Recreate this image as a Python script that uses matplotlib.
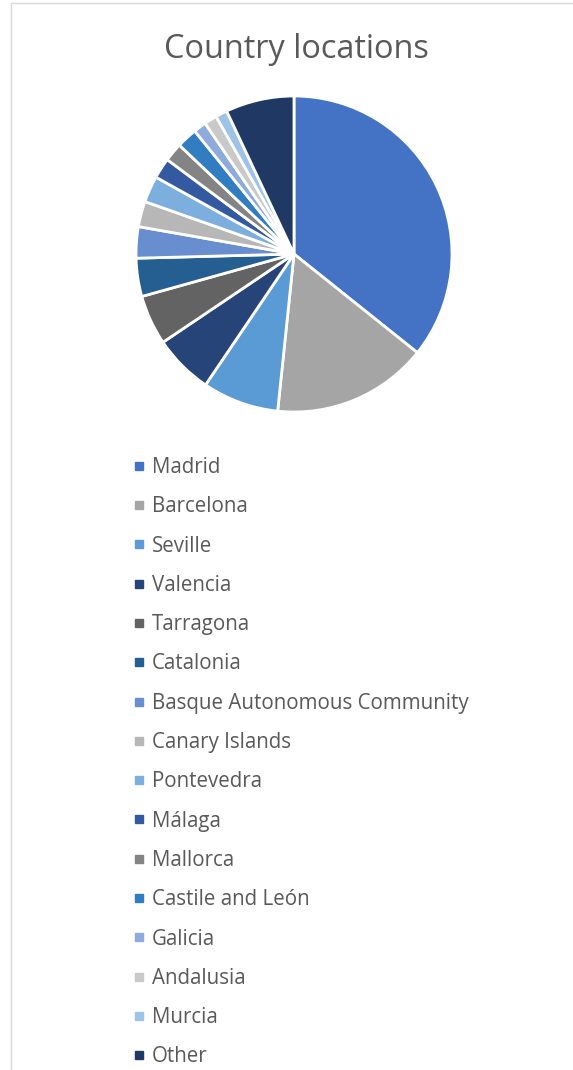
import matplotlib.pyplot as plt
from matplotlib.lines import Line2D
from matplotlib.patches import Rectangle

# data (share of locations, %)
regions = ['Madrid', 'Barcelona', 'Seville', 'Valencia', 'Tarragona', 'Catalonia',
           'Basque Autonomous Community', 'Canary Islands', 'Pontevedra', 'Málaga',
           'Mallorca', 'Castile and León', 'Galicia', 'Andalusia', 'Murcia', 'Other']
shares = [35.7, 15.9, 7.8, 6.1, 5.1, 3.9, 3.2, 2.6, 2.7, 2.1, 1.9, 2.1, 1.3, 1.3, 1.2, 7.0]
colors = ['#4472C4', '#A5A5A5', '#5B9BD5', '#264478', '#636363', '#255E91',
          '#698ED0', '#B7B7B7', '#7CAFDD', '#335AA1', '#848484', '#327DC2',
          '#8FAADC', '#C9C9C9', '#9DC3E6', '#203864']

plt.rcParams['font.family'] = ['Open Sans', 'DejaVu Sans']

W, H = 573, 1070
fig = plt.figure(figsize=(W / 100, H / 100), dpi=100)

# light chart border
fig.patches.append(Rectangle((11 / W, -0.1), 2, 1 - 3 / H + 0.1, transform=fig.transFigure,
                             fill=False, edgecolor='#D9D9D9', linewidth=1))

fig.text(296 / W, 1 - 58 / H, 'Country locations', ha='center', va='baseline',
         fontsize=23.4, color='#595959')

# pie axes: centre (294, 254) px, radius 158 px
cx, cy, r = 294, 254, 158
ax = fig.add_axes([(cx - r) / W, 1 - (cy + r) / H, 2 * r / W, 2 * r / H])
ax.pie(shares, colors=colors, startangle=90, counterclock=False,
       wedgeprops=dict(edgecolor='white', linewidth=2))
ax.set_xlim(-1, 1)
ax.set_ylim(-1, 1)
ax.axis('off')

handles = [Line2D([], [], linestyle='none', marker='s', markersize=6,
                  markerfacecolor=c, markeredgecolor=c) for c in colors]
leg = fig.legend(handles, regions, loc='upper left', bbox_to_anchor=(133 / W, 1 - 457 / H),
                 frameon=False, fontsize=14.8, labelcolor='#595959',
                 handlelength=0.6, handletextpad=0.3, labelspacing=0.89,
                 borderaxespad=0, borderpad=0)

fig.savefig('out.png', dpi=100)
